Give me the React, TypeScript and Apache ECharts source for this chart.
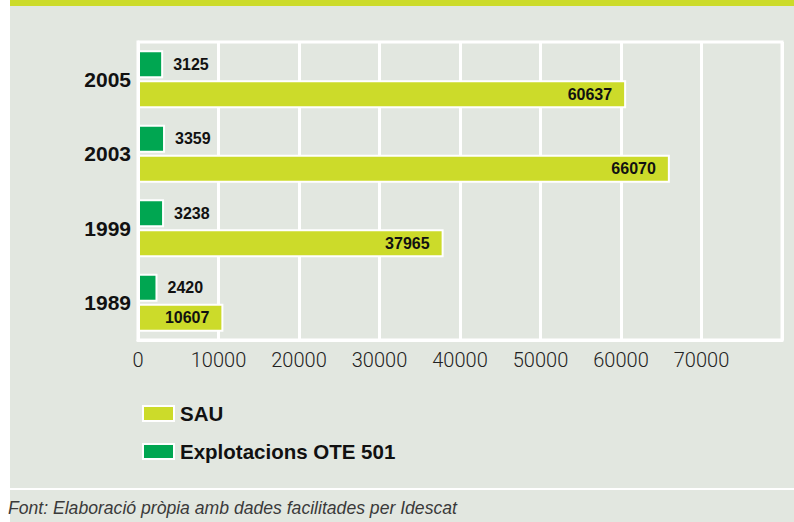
import React, { useEffect, useRef } from "react";
import * as echarts from "echarts";

const years = ["1989", "1999", "2003", "2005"];
const sau = [10607, 37965, 66070, 60637];
const explotacions = [2420, 3238, 3359, 3125];
const xTicks = [0, 10000, 20000, 30000, 40000, 50000, 60000, 70000];
const seriesNames = ["SAU", "Explotacions OTE 501"];
const sourceNote = "Font: Elaboració pròpia amb dades facilitades per Idescat";

const BG = "#E2E7E0";
const LIME = "#CCDB2A";
const GREEN = "#00A651";
const SANS = "'Liberation Sans', Arial, sans-serif";

export default function App() {
  const ref = useRef<HTMLDivElement>(null);
  useEffect(() => {
    if (!ref.current) return;
    const chart = echarts.init(ref.current, undefined, { renderer: "svg" });
    chart.setOption({
      animation: false,
      backgroundColor: "#ffffff",
      graphic: [
        { type: "rect", z: -10, silent: true, shape: { x: 10, y: 6, width: 784, height: 516 }, style: { fill: BG } },
        { type: "rect", z: -10, silent: true, shape: { x: 10, y: 0, width: 784, height: 6 }, style: { fill: LIME } },
        { type: "rect", z: -10, silent: true, shape: { x: 10, y: 488, width: 784, height: 2 }, style: { fill: "#ffffff" } },
        {
          type: "text",
          left: 8,
          top: 499,
          style: {
            text: sourceNote,
            fill: "#3a3a3a",
            font: "italic 17.6px 'Liberation Sans', Arial, sans-serif",
          },
        },
      ],
      grid: {
        left: 138,
        right: 12,
        top: 42,
        bottom: 182,
        show: true,
        borderColor: "#ffffff",
        borderWidth: 3,
        backgroundColor: "transparent",
      },
      legend: {
        data: seriesNames,
        orient: "vertical",
        left: 137,
        top: 398,
        itemWidth: 31,
        itemHeight: 15,
        itemGap: 17,
        icon: "rect",
        itemStyle: { borderColor: "#ffffff", borderWidth: 2 },
        textStyle: {
          fontFamily: SANS,
          fontWeight: "bold",
          fontSize: 20.5,
          color: "#111111",
          padding: [0, 0, 0, 1],
        },
      },
      xAxis: {
        type: "value",
        min: 0,
        max: 80000,
        interval: 10000,
        axisLine: { show: true, lineStyle: { color: "#ffffff", width: 3 } },
        axisTick: { show: false },
        splitLine: { show: true, lineStyle: { color: "#ffffff", width: 3 } },
        axisLabel: {
          margin: 10,
          fontFamily: "Roboto, 'Liberation Sans', sans-serif",
          fontWeight: 300,
          fontSize: 20,
          color: "#222222",
          formatter: (v: number) => (xTicks.indexOf(v) >= 0 ? String(v) : ""),
        },
      },
      yAxis: {
        type: "category",
        data: years,
        axisLine: { show: true, lineStyle: { color: "#ffffff", width: 3 } },
        axisTick: { show: false },
        splitLine: { show: false },
        axisLabel: {
          margin: 7,
          fontFamily: SANS,
          fontWeight: "bold",
          fontSize: 21,
          color: "#111111",
        },
      },
      series: [
        {
          name: seriesNames[1],
          type: "bar",
          data: explotacions,
          barWidth: 28,
          barGap: "7%",
          itemStyle: { color: GREEN, borderColor: "#ffffff", borderWidth: 2 },
          label: {
            show: true,
            position: "right",
            distance: 10,
            fontFamily: SANS,
            fontWeight: "bold",
            fontSize: 16,
            color: "#111111",
          },
        },
        {
          name: seriesNames[0],
          type: "bar",
          data: sau,
          barWidth: 28,
          barGap: "7%",
          itemStyle: { color: LIME, borderColor: "#ffffff", borderWidth: 2 },
          label: {
            show: true,
            position: "insideRight",
            distance: 14,
            fontFamily: SANS,
            fontWeight: "bold",
            fontSize: 16,
            color: "#111111",
          },
        },
      ],
    });
    return () => chart.dispose();
  }, []);
  return (
    <div
      ref={ref}
      style={{ position: "fixed", left: 0, top: 0, width: 794, height: 522 }}
    />
  );
}
